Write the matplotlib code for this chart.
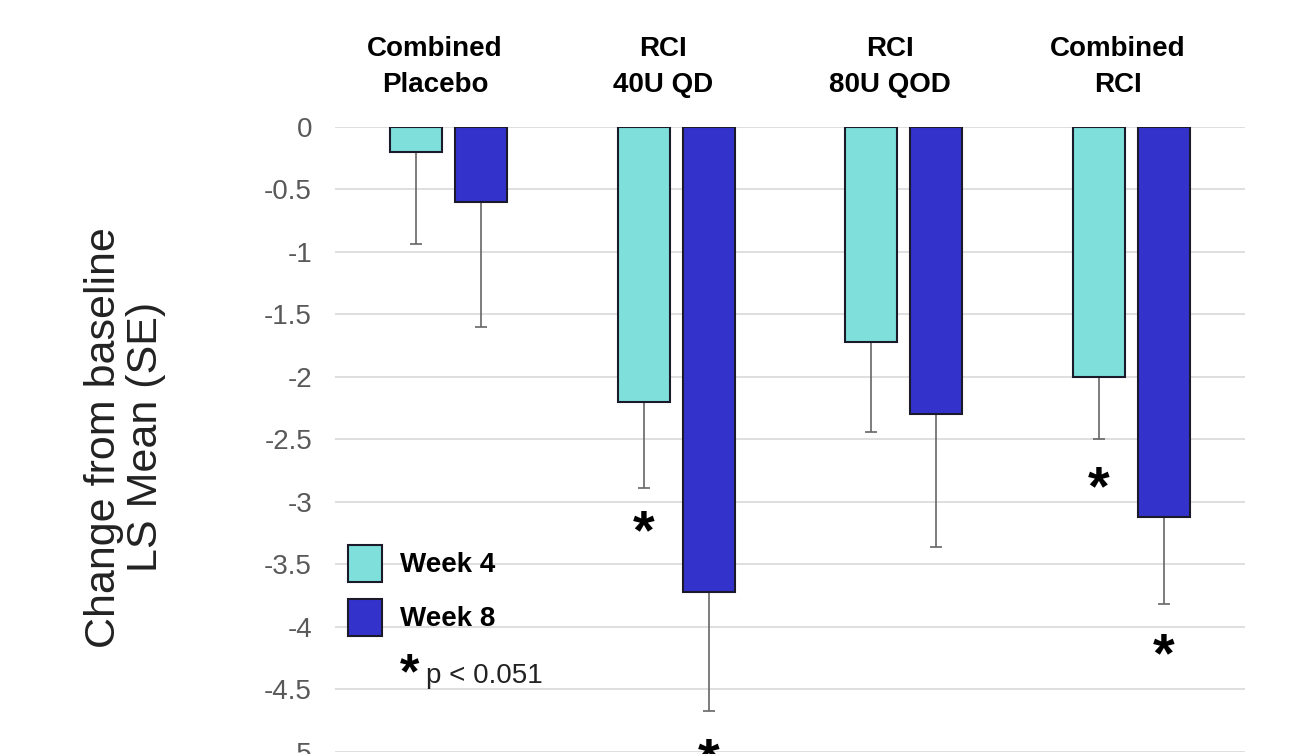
import matplotlib
matplotlib.use('Agg')
import matplotlib.pyplot as plt
import matplotlib.transforms as mtransforms

plt.rcParams['font.family'] = ['Liberation Sans', 'DejaVu Sans']

# Données
groupes = ['Combined\nPlacebo', 'RCI\n40U QD', 'RCI\n80U QOD', 'Combined\nRCI']
semaine4 = [-0.2, -2.2, -1.72, -2.0]
semaine8 = [-0.6, -3.72, -2.3, -3.12]
err4 = [0.74, 0.69, 0.72, 0.5]
err8 = [1.0, 0.95, 1.06, 0.7]
# étoiles de significativité (groupe, série, position y)
etoiles = [(1, 0, -3.16), (1, 1, -4.98), (3, 0, -2.81), (3, 1, -4.14)]
yticks = [0, -0.5, -1, -1.5, -2, -2.5, -3, -3.5, -4, -4.5, -5]

c4 = '#7FDFDB'
c8 = '#3333CC'
largeur = 0.229
decal = 0.143

fig = plt.figure(figsize=(12.9, 7.54), dpi=100)
ax = fig.add_axes([0.2597, 0.0027, 0.7054, 0.8289])

x = list(range(len(groupes)))
x4 = [i - decal for i in x]
x8 = [i + decal for i in x]

b4 = ax.bar(x4, semaine4, largeur, color=c4, edgecolor='#1a1a2a', linewidth=1.5,
            label='Week 4', zorder=3)
b8 = ax.bar(x8, semaine8, largeur, color=c8, edgecolor='#1a1a2a', linewidth=1.5,
            label='Week 8', zorder=3)

# barres d'erreur vers le bas seulement
ax.errorbar(x4, semaine4, yerr=[err4, [0] * 4], fmt='none', ecolor='#666666',
            elinewidth=1.2, capsize=4.5, capthick=1.2, zorder=2)
ax.errorbar(x8, semaine8, yerr=[err8, [0] * 4], fmt='none', ecolor='#666666',
            elinewidth=1.2, capsize=4.5, capthick=1.2, zorder=2)

# l'astérisque est dessiné haut dans sa boîte : on le descend un peu
decale_etoile = ax.transData + mtransforms.ScaledTranslation(0, -9 / 72, fig.dpi_scale_trans)
for g, s, yv in etoiles:
    xx = x4[g] if s == 0 else x8[g]
    ax.text(xx, yv, '*', fontsize=40, fontweight='bold', ha='center', va='center',
            transform=decale_etoile, zorder=4)

ax.set_xlim(-0.5, 3.5)
ax.set_ylim(-5, 0)
ax.set_yticks(yticks)
ax.set_yticklabels([f'{v:g}' for v in yticks])
ax.tick_params(axis='y', length=0, pad=16.5, labelsize=20, labelcolor='#595959')
ax.set_xticks([])
for sp in ax.spines.values():
    sp.set_visible(False)
ax.yaxis.grid(True, color='#D9D9D9', linewidth=1.2, zorder=0)
ax.set_axisbelow(True)

# titres des groupes au-dessus
trans = mtransforms.blended_transform_factory(ax.transData, ax.transAxes)
for i, nom in enumerate(groupes):
    ax.text(i - 0.06, 1.096, nom, transform=trans, ha='center', va='center',
            fontsize=20, fontweight='bold', linespacing=1.48)

fig.text(0.097, 0.42, 'Change from baseline\nLS Mean (SE)', rotation=90,
         ha='center', va='center', fontsize=31, color='#222222', linespacing=1.05)

leg = ax.legend(handles=[b4, b8], loc='upper left', bbox_to_anchor=(0.014, 0.331),
                frameon=False, prop={'weight': 'bold', 'size': 20},
                handlelength=1.22, handleheight=1.65, handletextpad=0.65,
                labelspacing=0.62, borderaxespad=0, borderpad=0)

ax.text(0.071, 0.122, '*', transform=ax.transAxes, fontsize=36,
        fontweight='bold', ha='left', va='center')
ax.text(0.1, 0.121, 'p < 0.051', transform=ax.transAxes, fontsize=20,
        ha='left', va='center', color='#222222')

fig.savefig('out.png', dpi=100)
